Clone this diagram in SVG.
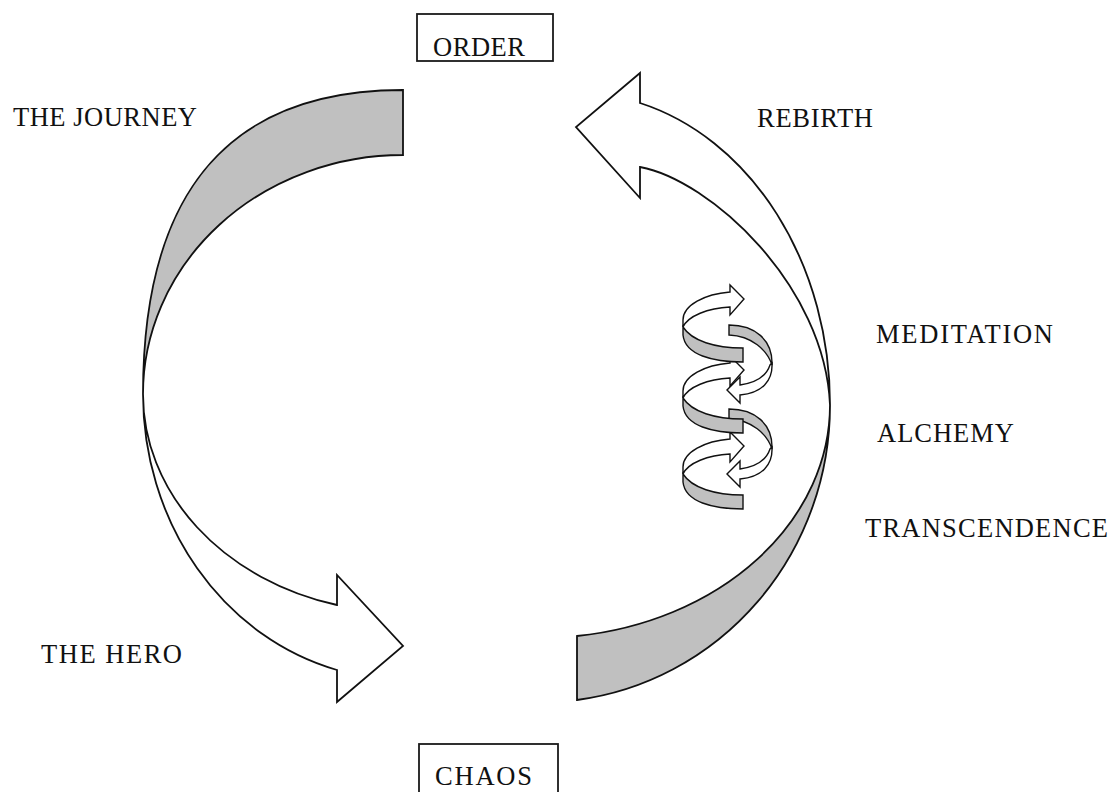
<svg xmlns="http://www.w3.org/2000/svg" width="1113" height="792" viewBox="0 0 1113 792">
<style>
.lbl{font-family:"Liberation Serif","Times New Roman",serif;font-size:26.5px;fill:#111111;}
.box{fill:#ffffff;stroke:#1a1a1a;stroke-width:1.8;}
.band{fill:#c0c0c0;stroke:#111;stroke-width:1.8;stroke-linejoin:miter;}
.arrow{fill:#ffffff;stroke:#111;stroke-width:1.8;stroke-linejoin:miter;}
.sband{fill:#c0c0c0;stroke:#111;stroke-width:1.4;}
.sarrow{fill:#ffffff;stroke:#111;stroke-width:1.4;}
</style>
<rect width="1113" height="792" fill="#ffffff"/>

<g id="connectors">
  <path id="journey-band" class="band" d="M403,90 C230,90 143,190 143,394 A260,239 0 0 1 403,155 Z"/>
  <path id="hero-arrow" class="arrow" d="M143,394 A260,285.4 0 0 0 337,670 L337,702 L403,646 L337,575 L337,605 A260,218 0 0 1 143,394 Z"/>
  <path id="transcendence-band" class="band" d="M830,405 A290,297 0 0 1 577,700 L577,636 A290,233 0 0 0 830,405 Z"/>
  <path id="rebirth-arrow" class="arrow" d="M830,405 A255,312 0 0 0 640,103 L640,73 L576,127 L640,198 L640,167 C710,180 825,285 830,405 Z"/>
</g>

<g id="spiral">
  <path class="sarrow" d="M683,320 C683,305 705,294 730,292 L730,285 L744,299 L730,315 L730,307 C708,308 688,316 683,327 Z"/>
  <path class="sarrow" d="M683,391 C683,376 705,365 730,363 L730,356 L744,370 L730,386 L730,378 C708,379 688,387 683,398 Z"/>
  <path class="sarrow" d="M683,467 C683,452 705,441 730,439 L730,432 L744,446 L730,462 L730,454 C708,455 688,463 683,474 Z"/>
  <path class="sarrow" d="M772,363 C773,381 762,393 740,395 L740,403 L727,390 L740,377 L740,385 C755,383 766,377 770,365 Z"/>
  <path class="sarrow" d="M772,447 C773,465 762,477 740,479 L740,487 L727,474 L740,461 L740,469 C755,467 766,461 770,449 Z"/>
  <path class="sband" d="M729,325 C755,325 773,340 772,365 C767,350 752,336 729,335 Z"/>
  <path class="sband" d="M729,409 C755,409 773,424 772,449 C767,434 752,420 729,419 Z"/>
  <path class="sband" d="M683,327 C692,341 715,348 743,348 L743,362 C713,362 685,355 683,335 Z"/>
  <path class="sband" d="M683,398 C692,412 715,419 743,419 L743,433 C713,433 685,426 683,406 Z"/>
  <path class="sband" d="M683,474 C692,488 715,495 743,495 L743,509 C713,509 685,502 683,482 Z"/>
</g>

<g id="order">
  <rect class="box" x="417" y="14" width="136" height="47"/>
  <text class="lbl" x="433" y="56" textLength="92">ORDER</text>
</g>
<g id="chaos">
  <rect class="box" x="419" y="744" width="139" height="60"/>
  <text class="lbl" x="435" y="785" textLength="97">CHAOS</text>
</g>
<g id="the-journey"><text class="lbl" x="13" y="126" textLength="184">THE JOURNEY</text></g>
<g id="the-hero"><text class="lbl" x="41" y="663" textLength="141">THE HERO</text></g>
<g id="rebirth"><text class="lbl" x="757" y="127" textLength="116">REBIRTH</text></g>
<g id="meditation"><text class="lbl" x="876" y="343" textLength="177">MEDITATION</text></g>
<g id="alchemy"><text class="lbl" x="877" y="442" textLength="137">ALCHEMY</text></g>
<g id="transcendence"><text class="lbl" x="865" y="537" textLength="243">TRANSCENDENCE</text></g>
</svg>
